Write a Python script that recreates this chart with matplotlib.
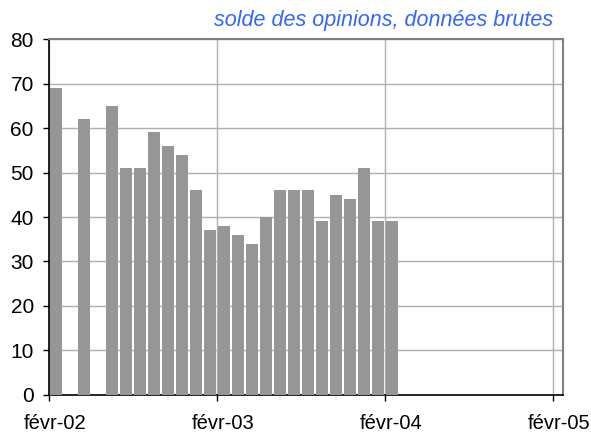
import numpy as np
import matplotlib.pyplot as plt

plt.rcParams['font.family'] = ['Liberation Sans', 'DejaVu Sans']

# mois depuis févr-02 (0 = févr-02), valeurs du solde des opinions
mois = list(range(25))
solde = [69, np.nan, 62, np.nan, 65, 51, 51, 59, 56, 54, 46,
         37, 38, 36, 34, 40, 46, 46, 46, 39, 45, 44, 51, 39, 39]
tick_pos = [0, 12, 24, 36]
tick_labels = ['févr-02', 'févr-03', 'févr-04', 'févr-05']

fig = plt.figure(figsize=(5.91, 4.34), dpi=100)
ax = fig.add_axes([0.083, 0.090, 0.87, 0.820])

x = np.array(mois) + 0.5
ax.bar(x, solde, width=0.85, color='#969696', zorder=3)

ax.set_xlim(0, 36.7)
ax.set_ylim(0, 80)
ax.set_yticks(range(0, 81, 10))
# graduations annuelles, libellés centrés sur le mois
ax.set_xticks(tick_pos)
ax.set_xticklabels([])
ax.set_xticks([p + 0.4 for p in tick_pos], minor=True)
ax.set_xticklabels(tick_labels, minor=True)
ax.tick_params(axis='both', labelsize=15, colors='black', length=4, width=1)
ax.tick_params(axis='x', which='minor', length=0, pad=14, labelsize=14.5)
ax.tick_params(axis='y', pad=7)

ax.grid(True, which='major', color='#b0b0b0', linewidth=1, zorder=0)
for s in ['left', 'bottom']:
    ax.spines[s].set_color('black')
    ax.spines[s].set_linewidth(1.2)
for s in ['top', 'right']:
    ax.spines[s].set_color('#808080')
    ax.spines[s].set_linewidth(1.5)

fig.text(0.936, 0.928, 'solde des opinions, données brutes', color='#3366ff',
         style='italic', fontsize=15.5, ha='right', va='bottom')

fig.savefig('out.png', dpi=100)
